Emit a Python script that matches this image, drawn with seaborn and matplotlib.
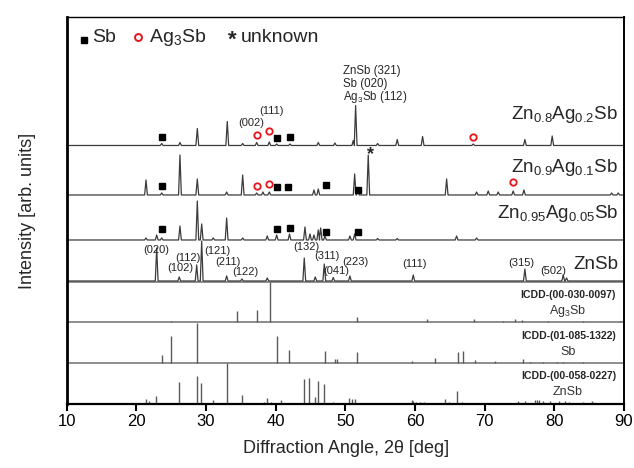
"""XRD patterns of Zn(1-x)Ag(x)Sb with ICDD reference sticks."""
import matplotlib
matplotlib.use("Agg")
import matplotlib.pyplot as plt
import pandas as pd
import seaborn as sns

sns.set_theme(style="white")
plt.rcParams["font.family"] = ["Liberation Sans", "DejaVu Sans"]
plt.rcParams["mathtext.fontset"] = "custom"
plt.rcParams["mathtext.rm"] = "Liberation Sans"
plt.rcParams["mathtext.it"] = "Liberation Sans:italic"

# ---------------- measured patterns (2theta [deg], intensity [arb.]) ----------------
zn08_pos = [23.66, 26.28, 28.77, 33.07, 35.28, 37.29, 39.10, 40.16, 42.07, 46.13,
            48.52, 51.15, 51.49, 54.65, 57.46, 61.10, 68.36, 75.78, 79.70]
zn08_int = [2, 3, 17, 24, 2, 3, 3.5, 1.5, 1.5, 3, 2.5, 5, 40, 2, 6, 9, 1.5, 6, 9.5]

zn09_pos = [21.41, 23.66, 26.28, 28.77, 32.98, 35.28, 37.29, 38.19, 39.10, 45.51,
            46.13, 51.35, 51.82, 53.30, 64.55, 68.85, 70.52, 71.95, 74.10, 75.64,
            88.22, 89.17]
zn09_int = [15, 2, 40, 16, 3, 20, 2, 3, 3, 5, 6, 21, 6, 40, 16, 3, 4, 3, 4, 5, 2, 2]

zn095_pos = [21.41, 22.94, 23.66, 26.28, 28.77, 29.40, 31.06, 32.98, 35.28, 38.81,
             40.16, 42.00, 44.22, 44.94, 45.51, 46.13, 46.47, 47.09, 50.67, 51.35,
             54.65, 57.46, 65.98, 68.85]
zn095_int = [2, 5, 2, 14, 39, 16, 2, 22, 2, 4, 5, 6, 13, 6, 5, 10, 12, 4, 4, 6,
             1.5, 1.5, 4, 2]

znsb_pos = [22.94, 26.18, 28.68, 29.40, 32.98, 35.18, 38.81, 44.12, 45.70, 46.99,
            48.28, 50.67, 59.76, 75.78, 81.28, 81.76]
znsb_int = [33, 4, 16, 40, 5, 2, 3, 23, 4, 17, 3.5, 5, 6, 12, 6, 3]

# ---------------- ICDD reference sticks ----------------
ag3sb_pos = [24.99, 34.42, 37.29, 39.20, 51.64, 61.68, 68.51, 72.67, 74.35, 75.31,
             79.12, 84.10, 89.41]
ag3sb_int = [1, 10.5, 11.5, 40, 5, 3, 3, 1, 3, 2, 1, 1, 1]

sb_pos = [23.66, 24.99, 28.68, 40.16, 41.97, 47.09, 48.52, 48.77, 51.64, 59.53,
          62.87, 66.13, 66.93, 68.61, 71.48, 75.45, 76.50, 78.41, 80.33, 81.28, 84.10]
sb_int = [7.5, 27, 40, 27, 13, 12, 4, 3.5, 11, 2, 5, 11, 12, 3, 2, 4, 1, 1, 1, 1, 1]

znsb_ref_pos = [21.41, 21.88, 22.84, 26.18, 28.68, 29.34, 31.06, 31.92, 32.98, 35.18,
                36.57, 38.34, 38.81, 39.34, 40.77, 44.12, 44.75, 45.70, 46.13, 46.99,
                48.28, 50.57, 50.92, 51.35, 55.22, 57.37, 58.56, 59.53, 59.76, 60.20,
                60.70, 61.30, 64.30, 64.88, 65.98, 66.70, 67.50, 68.50, 69.30, 70.80,
                74.82, 75.78, 77.22, 77.50, 77.80, 78.41, 79.37, 80.70, 81.50, 82.10,
                84.10, 85.35, 86.50, 87.80]
znsb_ref_int = [5, 3, 8, 22, 28, 21, 4, 1, 41, 9,
                1, 2, 6, 2, 4, 25, 26, 7, 23, 20,
                2, 6, 5, 5, 1, 1, 1, 4, 3, 2,
                2, 2, 5, 2, 13, 2, 1, 1, 1, 1,
                3, 3, 4, 4, 4, 3, 3, 3, 3, 2,
                2, 3, 1, 1]

# phase markers: (2theta, height in plot units)
sb_mark_x = [23.66, 40.16, 42.07, 23.66, 40.25, 41.82, 47.19, 51.86,
             23.66, 40.20, 42.07, 47.20, 51.80]
sb_mark_y = [267, 266, 266.5, 218, 217, 217, 219, 214, 174.7, 175, 175.7, 172.3, 172.3]
ag_mark_x = [37.29, 39.10, 68.36, 37.29, 39.10, 74.10]
ag_mark_y = [269, 272.5, 266.7, 218, 220, 222.3]
unk_mark_x = [53.64]
unk_mark_y = [249]

znsb_hkl = ["(020)", "(102)", "(112)", "(121)", "(211)", "(122)", "(132)",
            "(311)", "(041)", "(223)", "(111)", "(315)", "(502)"]
znsb_hkl_x = [22.94, 26.28, 27.48, 31.64, 33.21, 35.61, 44.46,
              47.33, 48.70, 51.50, 60.0, 75.31, 79.84]
znsb_hkl_y = [154, 135.7, 146.3, 153, 141.7, 131.7, 156.7,
              147.5, 133.0, 142.0, 140, 141.3, 133.3]

# vertical offsets of each pattern
OFF = {"zn08": 258.5, "zn09": 209, "zn095": 164, "znsb": 123,
       "ag3sb": 82, "sb": 41, "znsb_ref": 0}

TRACE = "#3c3c3c"
STICK = "#5a5a5a"


def spikes(pos, ints, base, hw=0.2):
    xs, ys = [10], [base]
    for p, h in zip(pos, ints):
        xs += [p - hw, p, p + hw]
        ys += [base, base + h, base]
    xs.append(90)
    ys.append(base)
    return pd.DataFrame({"two_theta": xs, "intensity": ys})


fig = plt.figure(figsize=(6.34, 4.68), dpi=100)
ax = fig.add_axes([0.1049, 0.1368, 0.8793, 0.8269])

for key, pos, ints in (("zn08", zn08_pos, zn08_int), ("zn09", zn09_pos, zn09_int),
                       ("zn095", zn095_pos, zn095_int), ("znsb", znsb_pos, znsb_int)):
    sns.lineplot(data=spikes(pos, ints, OFF[key]), x="two_theta", y="intensity",
                 sort=False, estimator=None, color=TRACE, lw=0.9, ax=ax)

for key, pos, ints in (("ag3sb", ag3sb_pos, ag3sb_int), ("sb", sb_pos, sb_int),
                       ("znsb_ref", znsb_ref_pos, znsb_ref_int)):
    base = OFF[key]
    ax.vlines(pos, base, [base + h for h in ints], color=STICK, lw=1.0)

for yb in (OFF["ag3sb"] + 40, OFF["ag3sb"], OFF["sb"]):
    ax.axhline(yb, color="#7a7a7a", lw=1.2, zorder=1)

# phase markers
ax.plot(sb_mark_x, sb_mark_y, ls="none", marker="s", ms=4.2, color="black")
ax.plot(ag_mark_x, ag_mark_y, ls="none", marker="o", ms=4.6, mfc="none",
        mec="#e8141c", mew=1.3)
for x, y in zip(unk_mark_x, unk_mark_y):
    ax.text(x, y, "*", ha="center", va="center", fontsize=13, fontweight="bold")

# legend row
ax.plot([12.51], [364], ls="none", marker="s", ms=5, color="black")
ax.text(13.66, 366, "Sb", fontsize=14, va="center")
ax.plot([20.26], [367], ls="none", marker="o", ms=5.0, mfc="none", mec="#e8141c", mew=1.4)
ax.text(21.84, 366, r"Ag$_3$Sb", fontsize=14, va="center")
ax.text(33.74, 364, "*", fontsize=16, ha="center", va="center", fontweight="bold")
ax.text(35.04, 366, "unknown", fontsize=14, va="center")

# sample names
ax.text(89.13, 284.7, r"Zn$_{0.8}$Ag$_{0.2}$Sb", fontsize=13.5, ha="right", va="baseline")
ax.text(89.13, 232.3, r"Zn$_{0.9}$Ag$_{0.1}$Sb", fontsize=13.5, ha="right", va="baseline")
ax.text(89.13, 185.7, r"Zn$_{0.95}$Ag$_{0.05}$Sb", fontsize=13.5, ha="right", va="baseline")
ax.text(89.13, 134.7, "ZnSb", fontsize=13.5, ha="right", va="baseline")

# peak indices
for lab, x, y in zip(znsb_hkl, znsb_hkl_x, znsb_hkl_y):
    ax.text(x, y, lab, fontsize=8, ha="center", va="center", color="#222222")
ax.text(36.57, 281.3, "(002)", fontsize=8, ha="center", va="center")
ax.text(39.44, 293, "(111)", fontsize=8, ha="center", va="center")
ax.text(49.67, 330, "ZnSb (321)", fontsize=8.3, va="baseline")
ax.text(49.67, 317, "Sb (020)", fontsize=8.3, va="baseline")
ax.text(49.67, 304, r"Ag$_3$Sb (112)", fontsize=8.3, va="baseline")

# ICDD cards
for (card, phase), y in zip((("ICDD-(00-030-0097)", r"Ag$_3$Sb"),
                             ("ICDD-(01-085-1322)", "Sb"),
                             ("ICDD-(00-058-0227)", "ZnSb")), (109, 68, 28)):
    ax.text(88.84, y, card, fontsize=7.6, fontweight="bold", ha="right", va="center")
    ax.text(81.95, y - 16, phase, fontsize=9, ha="center", va="center", color="#333333")

ax.set_xlim(10, 90)
ax.set_ylim(0, 387)
ax.set_yticks([])
ax.set_xticks(range(10, 91, 10))
ax.tick_params(axis="x", direction="out", length=5, width=1.5, labelsize=12,
               pad=2, colors="black", bottom=True)
for side, lw in (("left", 2.0), ("bottom", 1.6), ("right", 1.4), ("top", 1.0)):
    ax.spines[side].set_color("black")
    ax.spines[side].set_linewidth(lw)
ax.set_xlabel("Diffraction Angle, 2θ [deg]", fontsize=13)
ax.set_ylabel("Intensity [arb. units]", fontsize=13)
ax.xaxis.set_label_coords(0.502, -0.093)
ax.xaxis.label.set_va("top")
ax.yaxis.set_label_coords(-0.055, 0.5)

fig.savefig("out.png", dpi=100)
